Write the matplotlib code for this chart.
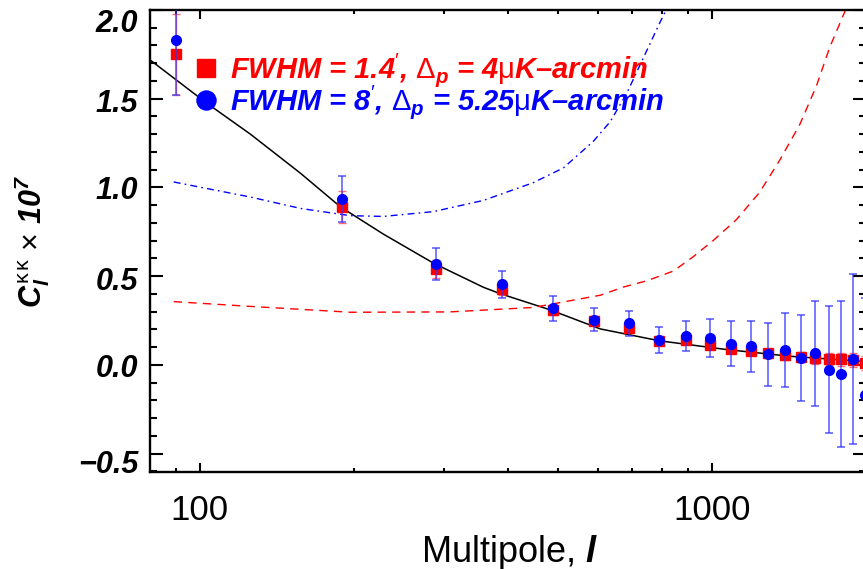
import numpy as np
import matplotlib
matplotlib.use("Agg")
import matplotlib.pyplot as plt
from matplotlib.lines import Line2D
from matplotlib.ticker import FixedLocator, FuncFormatter, MultipleLocator
from matplotlib.transforms import ScaledTranslation

plt.rcParams['font.family'] = ['Liberation Sans', 'DejaVu Sans']
plt.rcParams['mathtext.fontset'] = 'custom'
plt.rcParams['mathtext.rm'] = 'Liberation Sans'
plt.rcParams['mathtext.it'] = 'Liberation Sans:bold:italic'
plt.rcParams['mathtext.bf'] = 'Liberation Sans:bold:italic'

# ---- data ----
ell = [90, 190, 290, 390, 490, 590, 690, 790, 890, 990,
       1090, 1190, 1290, 1390, 1490, 1590, 1690, 1790, 1890, 1990]
red_vals = [1.75, 0.89, 0.54, 0.43, 0.31, 0.25, 0.207, 0.136, 0.141, 0.114,
            0.092, 0.08, 0.065, 0.058, 0.044, 0.038, 0.036, 0.033, 0.027, 0.012]
red_err = [0.23, 0.09, 0.05, 0.035, 0.028, 0.024, 0.022, 0.02, 0.02, 0.02,
           0.022, 0.024, 0.026, 0.028, 0.03, 0.032, 0.034, 0.036, 0.038, 0.04]
blue_vals = [1.83, 0.935, 0.57, 0.455, 0.32, 0.255, 0.234, 0.141, 0.163, 0.152,
             0.12, 0.106, 0.06, 0.085, 0.038, 0.065, -0.027, -0.05, 0.032, -0.17]
blue_err = [0.31, 0.13, 0.09, 0.075, 0.07, 0.065, 0.068, 0.072, 0.085, 0.105,
            0.125, 0.144, 0.177, 0.21, 0.243, 0.294, 0.358, 0.41, 0.48, 0.55]

theory_ell = [80, 102.7, 125.7, 157.4, 188.3, 228.5, 286, 358, 386, 483, 606,
              791, 1068, 1422, 1935, 2000]
theory_val = [1.719, 1.48, 1.30, 1.08, 0.891, 0.737, 0.574, 0.438, 0.402, 0.311,
              0.203, 0.136, 0.087, 0.049, 0.022, 0.02]

noise_red_ell = [89, 125.7, 197, 308, 448, 606, 672, 746, 841, 920, 1006,
                 1117, 1240, 1357, 1484, 1600, 1698, 1816, 1840]
noise_red_val = [0.357, 0.330, 0.297, 0.299, 0.324, 0.393, 0.439, 0.474, 0.529,
                 0.610, 0.701, 0.819, 0.973, 1.154, 1.353, 1.571, 1.788, 1.987, 2.03]

noise_blue_ell = [89, 125.7, 157.4, 197, 228.5, 286, 358, 448, 513, 587, 633,
                  682, 735, 792, 816, 830]
noise_blue_val = [1.031, 0.946, 0.882, 0.841, 0.837, 0.864, 0.927, 1.027, 1.11,
                  1.26, 1.37, 1.53, 1.73, 1.93, 2.005, 2.05]

xticks_major = [100, 1000]
xticks_minor = [90, 200, 300, 400, 500, 600, 700, 800, 900, 2000]
yticks_major = [-0.5, 0.0, 0.5, 1.0, 1.5, 2.0]

label_red = r"FWHM = 1.4$^{\prime}$, $\Delta_{p}$ = 4$\mathrm{\mu}$K–arcmin"
label_blue = r"FWHM = 8$^{\prime}$, $\Delta_{p}$ = 5.25$\mathrm{\mu}$K–arcmin"
xlabel_text = r"Multipole, $\mathit{l}$"
ylabel_text = r"$C_{l}^{\mathrm{\kappa\,\kappa}}$ $\mathrm{\times}$ 10$^{\mathbf{7}}$"

# ---- figure ----
W, H = 863, 569
fig = plt.figure(figsize=(W / 100, H / 100), dpi=100)
ax = fig.add_axes([150 / W, (H - 472) / H, 716 / W, 462 / H])
ax.set_xscale('log')
ax.set_xlim(80, 2000)
ax.set_ylim(-0.603, 2.0)

ax.plot(theory_ell, theory_val, color='black', lw=1.1, zorder=2)
ax.plot(noise_red_ell, noise_red_val, color='red', lw=1.0, dashes=(6, 4.5), zorder=2)
ax.plot(noise_blue_ell, noise_blue_val, color='blue', lw=1.0,
        dashes=(5, 3, 1.2, 3), zorder=2)

ax.errorbar(ell, red_vals, yerr=red_err, fmt='s', color='red', ms=7.2,
            mec='red', ecolor=(1, 0.3, 0.3, 0.8), elinewidth=1.0, capsize=3,
            capthick=1.0, zorder=3)
ax.errorbar(ell, blue_vals, yerr=blue_err, fmt='o', color='blue', ms=7,
            mec='blue', ecolor=(0.2, 0.2, 1, 0.7), elinewidth=1.3, capsize=3,
            capthick=1.3, zorder=4)

fs_leg = 21
handles = [Line2D([], [], ls='none', marker='s', color='red', ms=13),
           Line2D([], [], ls='none', marker='o', color='blue', ms=13.7)]
leg = ax.legend(handles, [label_red, label_blue], loc='upper left',
                bbox_to_anchor=(191.4 / W, 1 - 51 / H), bbox_transform=fig.transFigure,
                frameon=False, borderpad=0, borderaxespad=0, handlelength=1.0,
                handletextpad=0.32, labelspacing=-0.19, labelcolor=['red', 'blue'],
                prop={'family': 'Liberation Sans', 'weight': 'bold',
                      'style': 'italic', 'size': fs_leg})

# ---- ticks ----
ax.xaxis.set_major_locator(FixedLocator(xticks_major))
ax.xaxis.set_minor_locator(FixedLocator(xticks_minor))
ax.xaxis.set_major_formatter(FuncFormatter(lambda v, p: f"{v:.0f}"))
ax.xaxis.set_minor_formatter(FuncFormatter(lambda v, p: ""))
ax.yaxis.set_major_locator(FixedLocator(yticks_major))
ax.yaxis.set_minor_locator(MultipleLocator(0.1))
ax.yaxis.set_major_formatter(FuncFormatter(lambda v, p: f"{v:.1f}".replace('-', '−')))

ax.tick_params(which='both', direction='in', top=True, right=True, width=1.5,
               color='black')
xpad = 16.0
ax.tick_params(axis='x', which='major', length=6.5, pad=xpad, labelsize=25)
ax.tick_params(axis='x', which='minor', length=3.2)
ax.tick_params(axis='y', which='major', length=9.4, pad=8.6, labelsize=22)
ax.tick_params(axis='y', which='minor', length=5)
for lab in ax.get_yticklabels():
    lab.set_fontweight('bold')
    lab.set_fontstyle('italic')

for s in ax.spines.values():
    s.set_linewidth(1.7)

ax.set_xlabel(xlabel_text, fontsize=26)
ax.xaxis.set_label_coords((510 - 150) / 716, (472 - 533) / 462)
ax.set_ylabel(ylabel_text, fontsize=22, fontweight='bold', fontstyle='italic')
ax.yaxis.set_label_coords((52 - 150) / 716, 0.5)

# place x tick labels where the reference has them
fig.canvas.draw()
r = fig.canvas.get_renderer()
bb = ax.xaxis.get_majorticklabels()[0].get_window_extent(r)
delta_px = 494 - (H - bb.y1)
if abs(delta_px) > 1:
    ax.tick_params(axis='x', which='major', pad=xpad + delta_px * 0.72)

# the reference drops the end labels a little below their ticks
ylab_drop_px = [8, 1, 2, 0, 2, 10]
fig.canvas.draw()
for lab, d in zip(ax.yaxis.get_majorticklabels(), ylab_drop_px):
    if d:
        lab.set_transform(lab.get_transform() +
                          ScaledTranslation(0, -d / 100, fig.dpi_scale_trans))

fig.savefig("out.png", dpi=100)
